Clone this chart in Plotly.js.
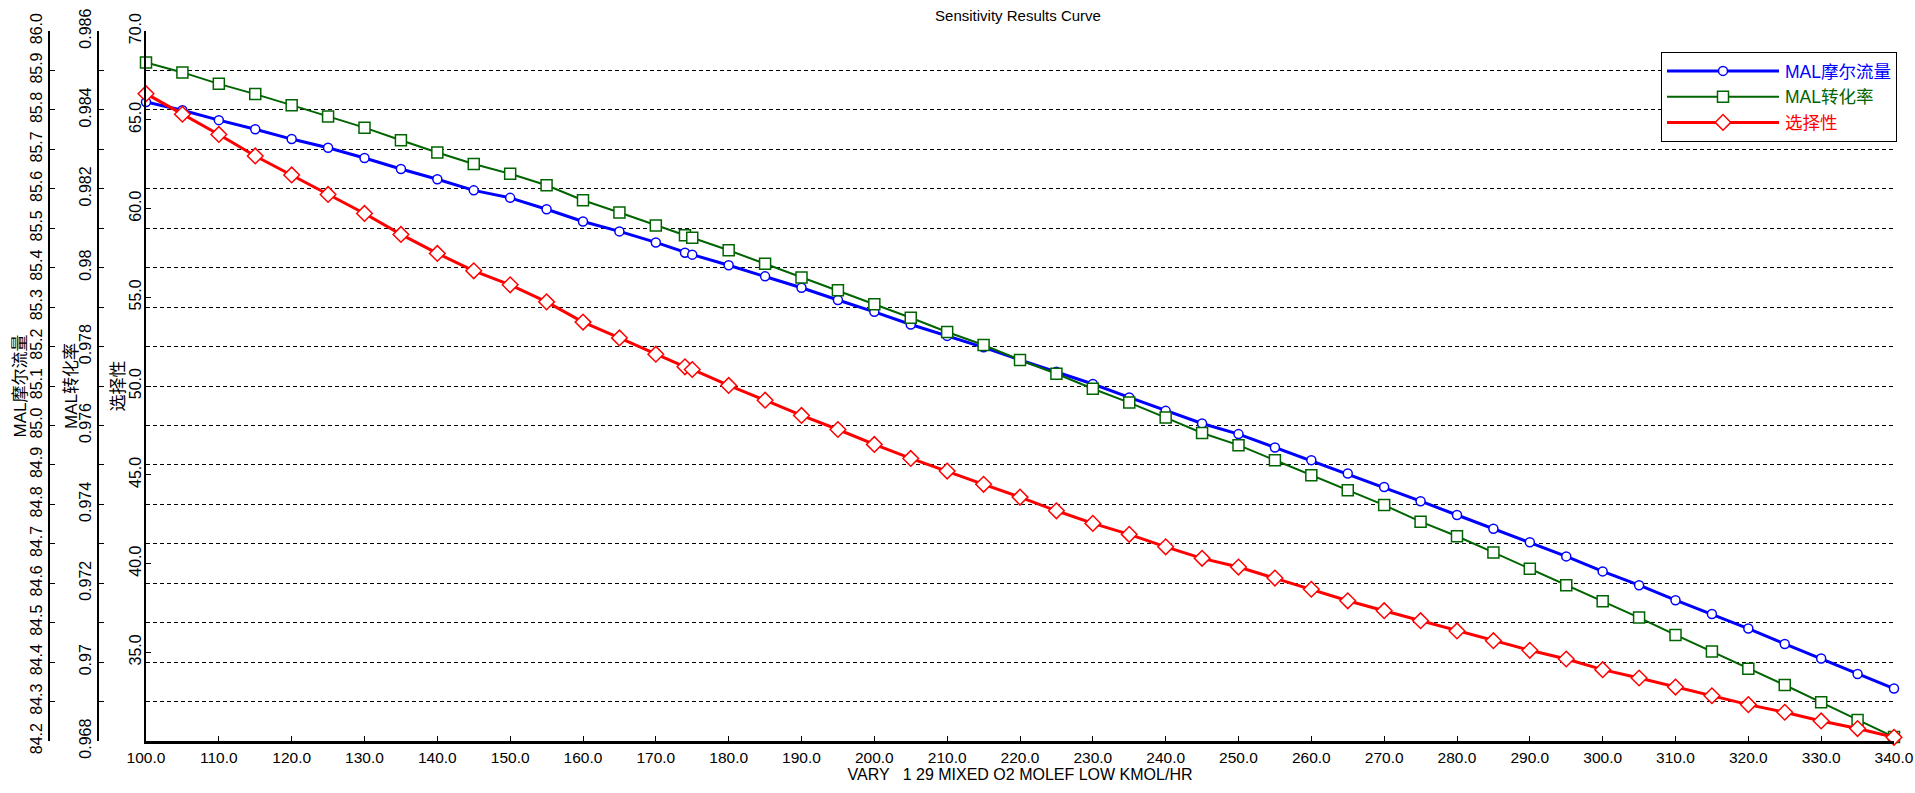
<!DOCTYPE html>
<html>
<head>
<meta charset="utf-8">
<script src="https://cdn.plot.ly/plotly-3.0.1.min.js"></script>
<style>
  html, body { margin: 0; padding: 0; background: #fff; }
  #chart { width: 1915px; height: 793px; }
</style>
</head>
<body>
<div id="chart"></div>
<script>
// sensitivity case values (O2 mixed flow, kmol/hr)
const o2Flow = [100, 105, 110, 115, 120, 125, 130, 135, 140, 145, 150, 155, 160, 165, 170, 174, 175,
  180, 185, 190, 195, 200, 205, 210, 215, 220, 225, 230, 235, 240, 245, 250, 255, 260, 265, 270,
  275, 280, 285, 290, 295, 300, 305, 310, 315, 320, 325, 330, 335, 340];

const malMolarFlow = [85.820, 85.799, 85.774, 85.751, 85.726, 85.704, 85.678, 85.650, 85.624, 85.596,
  85.577, 85.548, 85.517, 85.492, 85.464, 85.438, 85.433, 85.406, 85.378, 85.349, 85.318, 85.288,
  85.256, 85.227, 85.198, 85.166, 85.136, 85.105, 85.071, 85.037, 85.005, 84.978, 84.944, 84.912,
  84.878, 84.844, 84.808, 84.773, 84.738, 84.704, 84.668, 84.630, 84.595, 84.557, 84.522, 84.485,
  84.446, 84.409, 84.370, 84.333];

const malConversion = [0.98520, 0.98495, 0.98466, 0.98440, 0.98412, 0.98383, 0.98355, 0.98323,
  0.98292, 0.98263, 0.98238, 0.98209, 0.98171, 0.98140, 0.98107, 0.98082, 0.98076, 0.98044,
  0.98010, 0.97975, 0.97943, 0.97907, 0.97873, 0.97837, 0.97804, 0.97766, 0.97731, 0.97693,
  0.97658, 0.97620, 0.97581, 0.97550, 0.97512, 0.97474, 0.97436, 0.97398, 0.97356, 0.97319,
  0.97278, 0.97237, 0.97195, 0.97154, 0.97113, 0.97069, 0.97027, 0.96983, 0.96942, 0.96898,
  0.96853, 0.96810];

const selectivity = [66.47, 65.31, 64.17, 62.96, 61.89, 60.79, 59.72, 58.54, 57.47, 56.49, 55.70,
  54.74, 53.60, 52.71, 51.79, 51.08, 50.93, 50.03, 49.20, 48.34, 47.55, 46.71, 45.92, 45.21, 44.46,
  43.74, 42.97, 42.26, 41.64, 40.94, 40.29, 39.80, 39.18, 38.55, 37.90, 37.34, 36.78, 36.20, 35.65,
  35.11, 34.62, 34.02, 33.55, 33.04, 32.55, 32.05, 31.62, 31.13, 30.70, 30.21];

const conversionTicks = [0.968, 0.969, 0.970, 0.971, 0.972, 0.973, 0.974, 0.975, 0.976, 0.977,
  0.978, 0.979, 0.980, 0.981, 0.982, 0.983, 0.984, 0.985, 0.986];
const conversionTickText = ['0.968', '', '0.97', '', '0.972', '', '0.974', '', '0.976', '',
  '0.978', '', '0.98', '', '0.982', '', '0.984', '', '0.986'];
const selectivityTicks = [35, 40, 45, 50, 55, 60, 65, 70];

const seriesNames = ['MAL摩尔流量', 'MAL转化率', '选择性'];
const seriesColors = ['#0000ff', '#006400', '#ff0000'];

const FONT = 'Arial, "Liberation Sans", "Noto Sans CJK SC", sans-serif';
const W = 1894; // paper width (page width minus right margin)

function legendName(i) {
  return '<span style="color:' + seriesColors[i] + '">' + seriesNames[i] + '</span>';
}

const traces = [
  {
    x: o2Flow, y: malMolarFlow, yaxis: 'y', name: legendName(0),
    type: 'scatter', mode: 'lines+markers', cliponaxis: false,
    line: { color: seriesColors[0], width: 3 },
    marker: { symbol: 'circle', size: 9, color: '#fff', line: { color: seriesColors[0], width: 1.5 } }
  },
  {
    x: o2Flow, y: malConversion, yaxis: 'y2', name: legendName(1),
    type: 'scatter', mode: 'lines+markers', cliponaxis: false,
    line: { color: seriesColors[1], width: 2 },
    marker: { symbol: 'square', size: 11, color: '#fff', line: { color: seriesColors[1], width: 1.5 } }
  },
  {
    x: o2Flow, y: selectivity, yaxis: 'y3', name: legendName(2),
    type: 'scatter', mode: 'lines+markers', cliponaxis: false,
    line: { color: seriesColors[2], width: 3 },
    marker: { symbol: 'diamond', size: 12, color: '#fff', line: { color: seriesColors[2], width: 1.5 } }
  }
];

const yCommon = {
  ticks: 'inside', ticklen: 5, tickcolor: '#000', tickwidth: 1,
  showline: true, linecolor: '#000', linewidth: 2,
  zeroline: false, tickangle: -90,
  tickfont: { family: FONT, size: 16, color: '#000' },
  fixedrange: true
};

const layout = {
  width: 1915, height: 793,
  margin: { l: 0, r: 21, t: 31, b: 52 },
  paper_bgcolor: '#fff', plot_bgcolor: '#fff',
  font: { family: FONT, color: '#000' },
  showlegend: true,
  title: {
    text: 'Sensitivity Results Curve',
    font: { family: FONT, size: 15, color: '#000' },
    xref: 'paper', x: 1018 / W, xanchor: 'center',
    yref: 'container', y: 1 - 16 / 793, yanchor: 'middle'
  },
  xaxis: {
    domain: [146 / W, 1],
    range: [100, 340], tick0: 100, dtick: 10, tickformat: '.1f',
    ticks: 'inside', ticklen: 5, tickcolor: '#000',
    showline: true, linecolor: '#000', linewidth: 3,
    showgrid: false, zeroline: false,
    tickfont: { family: FONT, size: 15.5, color: '#000' },
    title: { text: 'VARY   1 29 MIXED O2 MOLEF LOW KMOL/HR', font: { family: FONT, size: 16, color: '#000' }, standoff: 0 },
    fixedrange: true
  },
  yaxis: Object.assign({}, yCommon, {
    anchor: 'free', position: 49 / W,
    range: [84.2, 86.0], tick0: 84.2, dtick: 0.1, tickformat: '.1f',
    showgrid: true, gridcolor: '#000', gridwidth: 1, griddash: '4px,3px',
    title: { text: seriesNames[0], font: { family: FONT, size: 17, color: '#000' }, standoff: 0 }
  }),
  yaxis2: Object.assign({}, yCommon, {
    overlaying: 'y', anchor: 'free', position: 98 / W,
    range: [0.968, 0.986], tickmode: 'array',
    tickvals: conversionTicks, ticktext: conversionTickText,
    showgrid: false,
    title: { text: seriesNames[1], font: { family: FONT, size: 17, color: '#000' }, standoff: 0 }
  }),
  yaxis3: Object.assign({}, yCommon, {
    overlaying: 'y', anchor: 'x',
    range: [30, 70], tickmode: 'array', tickvals: selectivityTicks, tickformat: '.1f',
    showgrid: false,
    title: { text: seriesNames[2], font: { family: FONT, size: 17, color: '#000' }, standoff: 0 }
  }),
  legend: {
    x: 1897 / W, xanchor: 'right',
    y: 1 - (52 - 31) / 710, yanchor: 'top',
    bgcolor: '#fff', bordercolor: '#000', borderwidth: 1,
    font: { family: FONT, size: 17.5, color: '#000' },
    itemwidth: 113, tracegroupgap: 0
  }
};

// small nudges so the stacked left axes sit like the original
const titleNudge = { 'g-ytitle': 4, 'g-y2title': 6, 'g-y3title': 5 };
const y3LabelNudge = 3;

Plotly.newPlot('chart', traces, layout, { displayModeBar: false, staticPlot: true }).then(function(gd) {
  // stretch the legend line samples across the symbol area, marker in the middle
  gd.querySelectorAll('.legend .traces').forEach(function(tr) {
    const text = tr.querySelector('text.legendtext');
    let tx = text ? parseFloat(text.getAttribute('x')) : NaN;
    if (!isFinite(tx)) tx = layout.legend.itemwidth + 10;
    const len = tx - 11;
    const line = tr.querySelector('path.js-line');
    if (line) line.setAttribute('d', 'M5,0h' + len);
    tr.querySelectorAll('.legendsymbols path.scatterpts').forEach(function(p) {
      p.setAttribute('transform', 'translate(' + (5 + len / 2) + ',0)');
    });
  });
  Object.keys(titleNudge).forEach(function(cls) {
    gd.querySelectorAll('g.' + cls).forEach(function(g) {
      g.setAttribute('transform', 'translate(' + titleNudge[cls] + ',0)');
    });
  });
  gd.querySelectorAll('g.y3tick').forEach(function(g) {
    g.setAttribute('transform', 'translate(' + y3LabelNudge + ',0)');
  });
});
</script>
</body>
</html>
